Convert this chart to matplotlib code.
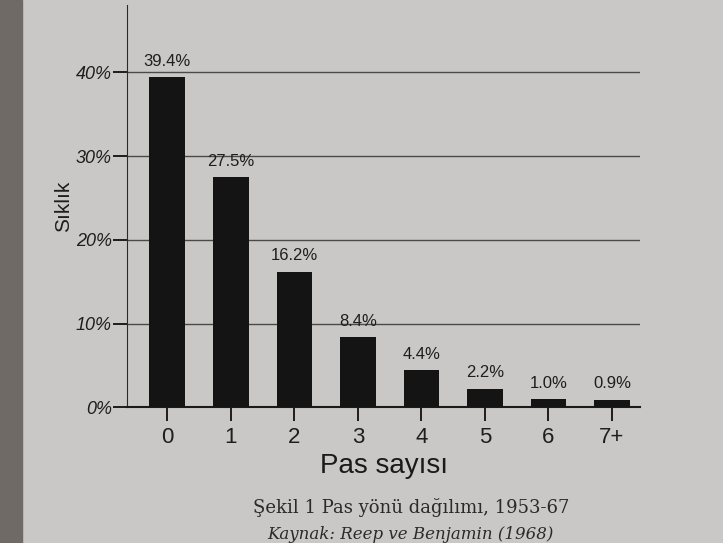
import matplotlib.pyplot as plt
import matplotlib as mpl

mpl.rcParams['font.family'] = ['Liberation Sans', 'DejaVu Sans']

# veriler
kategoriler = ['0', '1', '2', '3', '4', '5', '6', '7+']
degerler = [39.4, 27.5, 16.2, 8.4, 4.4, 2.2, 1.0, 0.9]
etiketler = ['39.4%', '27.5%', '16.2%', '8.4%', '4.4%', '2.2%', '1.0%', '0.9%']
y_ticks = [0, 10, 20, 30, 40]
y_labels = ['0%', '10%', '20%', '30%', '40%']

fig = plt.figure(figsize=(7.23, 5.43), dpi=100)
fig.patch.set_facecolor('#c9c8c6')
# kitap kenarı
fig.patches.append(plt.Rectangle((0, 0), 0.03, 1, transform=fig.transFigure,
                                 color='#6f6a66', zorder=0))

ax = fig.add_axes([0.176, 0.25, 0.709, 0.74])
ax.set_facecolor('#c9c8c6')

x = range(len(kategoriler))
ax.bar(x, degerler, width=0.56, color='#141414', zorder=3)
for i, v in enumerate(degerler):
    ax.text(i, v + 1.0, etiketler[i], ha='center', va='bottom',
            fontsize=12, color='#1e1e1e')

for t in y_ticks[1:]:
    ax.axhline(t, color='#4a4a4a', lw=1.0, zorder=1)

ax.set_xlim(-0.63, 7.44)
ax.set_ylim(0, 48)
ax.set_xticks(list(x))
ax.set_xticklabels(kategoriler, fontsize=16, color='#1e1e1e')
ax.set_yticks(y_ticks)
ax.set_yticklabels(y_labels, fontsize=13, style='italic', color='#1e1e1e')
ax.tick_params(axis='x', length=10, width=1.2, direction='out', pad=4)
ax.tick_params(axis='y', length=10, width=1.2, direction='out', pad=1)
ax.spines['top'].set_visible(False)
ax.spines['right'].set_visible(False)
ax.spines['left'].set_color('#2a2a2a')
ax.spines['bottom'].set_color('#1a1a1a')
ax.spines['bottom'].set_linewidth(1.5)

ax.set_xlabel('Pas sayısı', fontsize=20, color='#1a1a1a', labelpad=4)
ax.set_ylabel('Sıklık', fontsize=15, color='#1e1e1e', labelpad=2)

fig.text(0.35, 0.055, 'Şekil 1 Pas yönü dağılımı, 1953-67', fontsize=13,
         family='DejaVu Serif', color='#2a2a2a', ha='left')
fig.text(0.37, 0.008, 'Kaynak: Reep ve Benjamin (1968)', fontsize=12,
         family='DejaVu Serif', style='italic', color='#2a2a2a', ha='left')

plt.savefig('out.png', dpi=100, facecolor=fig.get_facecolor())
